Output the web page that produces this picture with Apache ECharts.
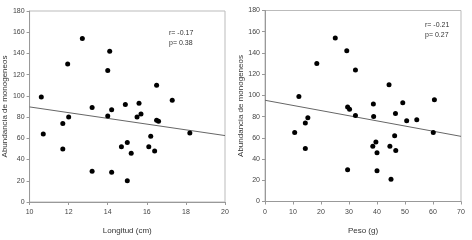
<!DOCTYPE html>
<html>
<head>
<meta charset="utf-8">
<script src="https://cdn.jsdelivr.net/npm/echarts@6/dist/echarts.min.js"></script>
<style>
  html, body { margin: 0; padding: 0; background: #fff; }
  #chart { width: 472px; height: 240px; }
</style>
</head>
<body>
<div id="chart"></div>
<script>
// longitud (cm) vs abundancia
var longitud = [10.6, 10.7, 11.7, 11.7, 12.0, 11.95, 12.7, 13.2, 13.2, 14.1, 14.0, 14.0, 14.2, 14.2, 14.9,
  14.7, 15.0, 15.2, 15.0, 15.6, 15.5, 15.7, 16.1, 16.2, 16.4, 16.5, 16.5, 16.6, 17.3, 18.2];
var abundLong = [99, 64, 74, 50, 80, 130, 154, 89, 29, 142, 124, 81, 87, 28, 92,
  52, 56, 46, 20, 93, 80, 83, 52, 62, 48, 110, 77, 76, 96, 65];
// peso (g) vs abundancia
var peso = [12.1, 15.3, 18.5, 25.1, 29.2, 32.3, 29.5, 30.2, 32.3, 38.7, 38.8, 44.3, 46.6, 49.2, 60.5,
  10.6, 14.4, 14.4, 29.5, 38.5, 39.6, 40.0, 40.0, 45.0, 44.6, 46.3, 46.7, 50.6, 54.2, 60.1];
var abundPeso = [99, 79, 130, 154, 142, 124, 89, 87, 81, 92, 80, 110, 83, 93, 96,
  65, 74, 50, 30, 52, 56, 46, 29, 21, 52, 62, 48, 76, 77, 65];
// rectas de regresion (extremos)
var lineLong = [[10, 89.6], [20, 62.6]];
var linePeso = [[0, 95.4], [70, 61.4]];
var xTicksLong = [10, 20, 2];
var xTicksPeso = [0, 70, 10];
var yTicks = [0, 180, 20];

var myChart = echarts.init(document.getElementById('chart'));

function pairs(xs, ys) {
  var out = [];
  xs.forEach(function (x, i) { out.push([x, ys[i]]); });
  return out;
}

var axisTxt = { fontFamily: 'Liberation Sans', fontSize: 7, color: '#444' };

function xAx(idx, t, name) {
  return {
    gridIndex: idx, type: 'value', min: t[0], max: t[1], interval: t[2],
    name: name, nameLocation: 'middle', nameGap: 25,
    nameTextStyle: { fontFamily: 'Liberation Sans', fontSize: 8, color: '#333' },
    axisLine: { lineStyle: { color: '#999', width: 1 } },
    axisTick: { show: true, length: 3, lineStyle: { color: '#999' } },
    axisLabel: Object.assign({ margin: 7 }, axisTxt),
    splitLine: { show: false }
  };
}
function yAx(idx, name) {
  return {
    gridIndex: idx, type: 'value', min: yTicks[0], max: yTicks[1], interval: yTicks[2],
    name: name, nameLocation: 'middle', nameGap: 18,
    nameTextStyle: { fontFamily: 'Liberation Sans', fontSize: 8, color: '#333' },
    axisLine: { show: true, lineStyle: { color: '#999', width: 1 } },
    axisTick: { show: true, length: 3, lineStyle: { color: '#999' } },
    axisLabel: Object.assign({ margin: 5 }, axisTxt),
    splitLine: { show: false }
  };
}

myChart.setOption({
  animation: false,
  grid: [
    { left: 28, top: 11, width: 197, height: 191, show: true, borderColor: '#bbb', borderWidth: 1 },
    { left: 265, top: 10.5, width: 196, height: 191, show: true, borderColor: '#bbb', borderWidth: 1 }
  ],
  xAxis: [xAx(0, xTicksLong, 'Longitud (cm)'), xAx(1, xTicksPeso, 'Peso (g)')],
  yAxis: [yAx(0, 'Abundancia de monogeneos'), yAx(1, 'Abundancia de monogeneos')],
  graphic: [
    { type: 'text', left: 169, top: 28, style: { text: 'r= -0.17\np= 0.38', font: '7px Liberation Sans', fill: '#333', lineHeight: 10 } },
    { type: 'text', left: 425, top: 20, style: { text: 'r= -0.21\np= 0.27', font: '7px Liberation Sans', fill: '#333', lineHeight: 10 } }
  ],
  series: [
    { type: 'line', xAxisIndex: 0, yAxisIndex: 0, data: lineLong, symbol: 'none',
      lineStyle: { color: '#666', width: 1 }, z: 1 },
    { type: 'line', xAxisIndex: 1, yAxisIndex: 1, data: linePeso, symbol: 'none',
      lineStyle: { color: '#666', width: 1 }, z: 1 },
    { type: 'scatter', xAxisIndex: 0, yAxisIndex: 0, data: pairs(longitud, abundLong),
      symbolSize: 5, itemStyle: { color: '#000', opacity: 1 }, z: 2 },
    { type: 'scatter', xAxisIndex: 1, yAxisIndex: 1, data: pairs(peso, abundPeso),
      symbolSize: 5, itemStyle: { color: '#000', opacity: 1 }, z: 2 }
  ]
});
</script>
</body>
</html>
